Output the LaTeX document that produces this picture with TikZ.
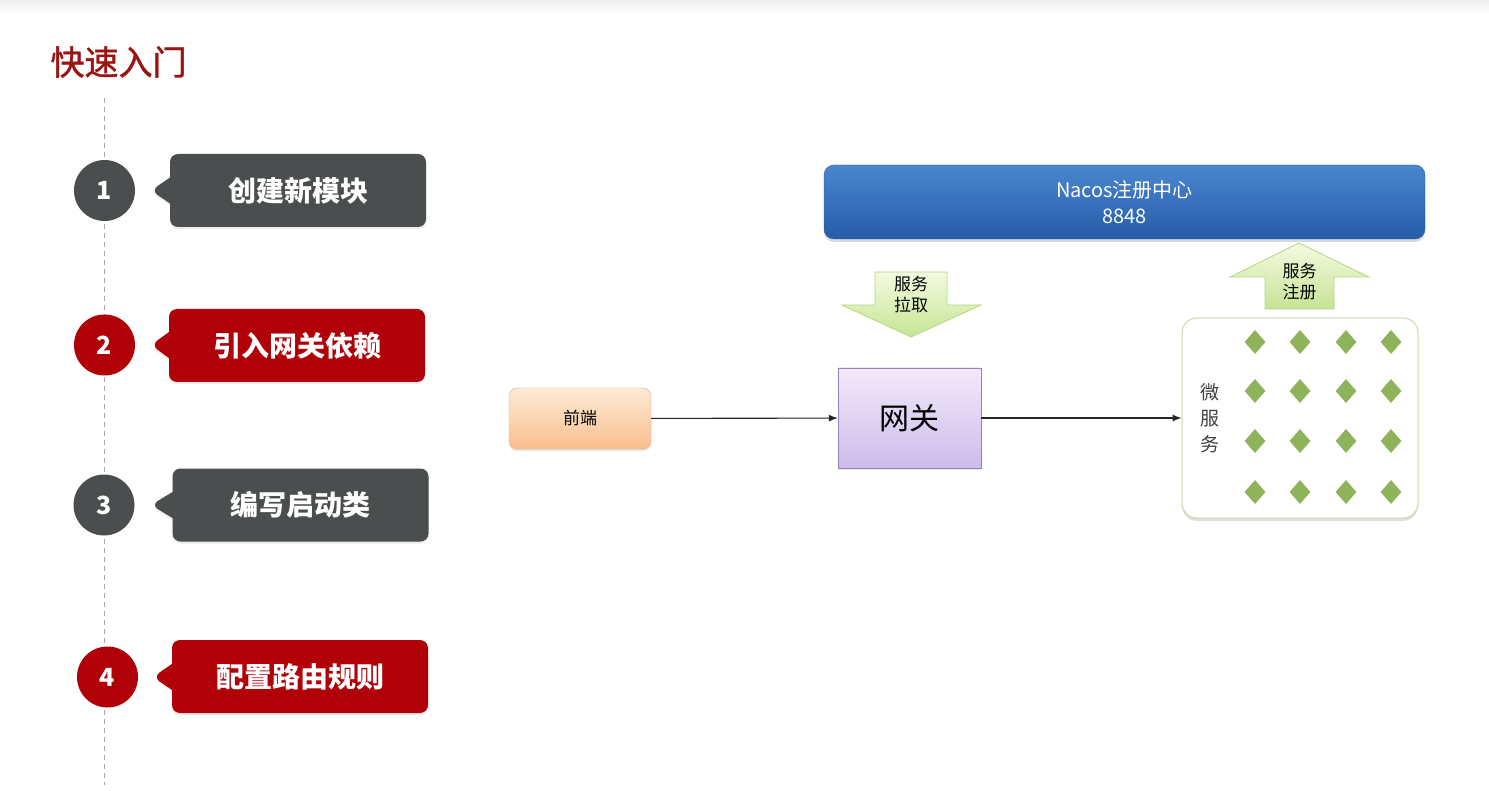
\documentclass[tikz,border=0pt]{standalone}
\usepackage{fontspec}
\setmainfont{Noto Sans CJK SC}
\newfontfamily\titlefont{Noto Sans CJK SC}[FakeBold=1.2]
\usetikzlibrary{shapes.geometric,shapes.callouts,shadows,arrows.meta}
\definecolor{titlered}{RGB}{155,20,20}
\definecolor{stepgray}{RGB}{75,78,79}
\definecolor{stepred}{RGB}{176,0,8}
\definecolor{nacostop}{RGB}{74,134,207}
\definecolor{nacosbot}{RGB}{38,92,168}
\definecolor{greentop}{RGB}{244,250,225}
\definecolor{greenbot}{RGB}{198,228,148}
\definecolor{greenline}{RGB}{182,214,132}
\definecolor{orangetop}{RGB}{253,234,214}
\definecolor{orangebot}{RGB}{249,190,140}
\definecolor{orangeline}{RGB}{238,176,122}
\definecolor{purpletop}{RGB}{242,234,251}
\definecolor{purplebot}{RGB}{204,188,234}
\definecolor{purpleline}{RGB}{150,130,190}
\definecolor{dia}{RGB}{143,179,90}
\definecolor{msline}{RGB}{200,220,170}
\begin{document}
\begin{tikzpicture}[x=1pt, y=-1pt]
\tikzstyle{num} = [circle, minimum size=61pt, inner sep=0pt, text=white, font=\fontsize{25}{27}\selectfont\bfseries]
\tikzstyle{stepbox} = [rectangle callout, rounded corners=8pt, minimum width=256pt, minimum height=73pt, inner sep=0pt, callout pointer width=26pt, text=white, font=\fontsize{28}{32}\selectfont\bfseries, drop shadow={opacity=0.15, shadow xshift=0pt, shadow yshift=-2pt}]
\tikzstyle{tl} = [draw=gray!70, dash pattern=on 5pt off 4pt, line width=0.8pt]
\tikzstyle{bigarrow} = [draw=greenline, line width=0.8pt, top color=greentop, bottom color=greenbot]
\tikzstyle{small} = [align=center, font=\fontsize{17}{21}\selectfont]
\tikzstyle{e} = [draw=black!85, line width=1.1pt, -{Latex[length=9pt, width=7pt]}]
\tikzstyle{dm} = [diamond, fill=dia, minimum width=21pt, minimum height=24pt, inner sep=0pt]

\useasboundingbox (0,0) rectangle (1489,791);
\fill[white] (0,0) rectangle (1489,791);
\shade[top color=gray!14, bottom color=white] (0,0) rectangle (1489,14);

\node[anchor=west, text=titlered, font=\fontsize{34}{38}\titlefont] (T) at (47,62) {快速入门};

\coordinate (t0) at (104,98);
\coordinate (t1) at (104,785);
\draw[tl] (t0) -- (t1);

\node[num, fill=stepgray] (c1) at (104.5,190.5) {1};
\node[num, fill=stepred] (c2) at (104.5,345) {2};
\node[num, fill=stepgray] (c3) at (104,505) {3};
\node[num, fill=stepred] (c4) at (107.5,677) {4};

\coordinate (p1) at (151,190.5);
\coordinate (p2) at (151,345);
\coordinate (p3) at (151,505);
\coordinate (p4) at (153,677);
\node[stepbox, fill=stepgray, callout absolute pointer=(p1)] (s1) at (298,190.5) {创建新模块};
\node[stepbox, fill=stepred, callout absolute pointer=(p2)] (s2) at (297,345.5) {引入网关依赖};
\node[stepbox, fill=stepgray, callout absolute pointer=(p3)] (s3) at (300.5,505) {编写启动类};
\node[stepbox, fill=stepred, callout absolute pointer=(p4)] (s4) at (300,676.5) {配置路由规则};

\node[rectangle, rounded corners=10pt, minimum width=601pt, minimum height=74pt, draw=nacosbot, top color=nacostop, bottom color=nacosbot, drop shadow={opacity=0.3, shadow xshift=0pt, shadow yshift=-3pt}, text=white, align=center, font=\fontsize{20}{26}\selectfont] (N) at (1124.5,202) {Nacos注册中心\\8848};

\draw[bigarrow] (875,272) -- (947,272) -- (947,305) -- (981,305) -- (911,337) -- (842,305) -- (875,305) -- cycle;
\node[small] (pull) at (911,295) {服务\\拉取};
\draw[bigarrow] (1299,243) -- (1369,277) -- (1334,277) -- (1334,309) -- (1265,309) -- (1265,277) -- (1230,277) -- cycle;
\node[small] (reg) at (1299.5,282) {服务\\注册};

\node[rectangle, rounded corners=8pt, minimum width=142pt, minimum height=61pt, draw=orangeline, top color=orangetop, bottom color=orangebot, drop shadow={opacity=0.2, shadow xshift=0pt, shadow yshift=-2pt}, font=\fontsize{17}{20}\selectfont] (F) at (580,418.5) {前端};
\node[rectangle, minimum width=143pt, minimum height=100pt, draw=purpleline, top color=purpletop, bottom color=purplebot, drop shadow={opacity=0.2, shadow xshift=0pt, shadow yshift=-2pt}, font=\fontsize{30}{34}\selectfont] (G) at (909.5,418) {网关};
\node[rectangle, rounded corners=15pt, minimum width=236pt, minimum height=200pt, draw=msline, line width=1pt, fill=white, drop shadow={opacity=0.25, shadow xshift=0pt, shadow yshift=-3pt}] (M) at (1300,418) {};
\node[align=center, text=black!75, font=\fontsize{19}{26}\selectfont] (ML) at (1210,418) {微\\服\\务};

\node[dm] (d11) at (1255,342) {}; \node[dm] (d12) at (1300,342) {}; \node[dm] (d13) at (1346,342) {}; \node[dm] (d14) at (1391,342) {};
\node[dm] (d21) at (1255,391) {}; \node[dm] (d22) at (1300,391) {}; \node[dm] (d23) at (1346,391) {}; \node[dm] (d24) at (1391,391) {};
\node[dm] (d31) at (1255,441) {}; \node[dm] (d32) at (1300,441) {}; \node[dm] (d33) at (1346,441) {}; \node[dm] (d34) at (1391,441) {};
\node[dm] (d41) at (1255,492) {}; \node[dm] (d42) at (1300,492) {}; \node[dm] (d43) at (1346,492) {}; \node[dm] (d44) at (1391,492) {};

\draw[e] (F) -- (G);
\draw[e] (G) -- (M);
\end{tikzpicture}
\end{document}
